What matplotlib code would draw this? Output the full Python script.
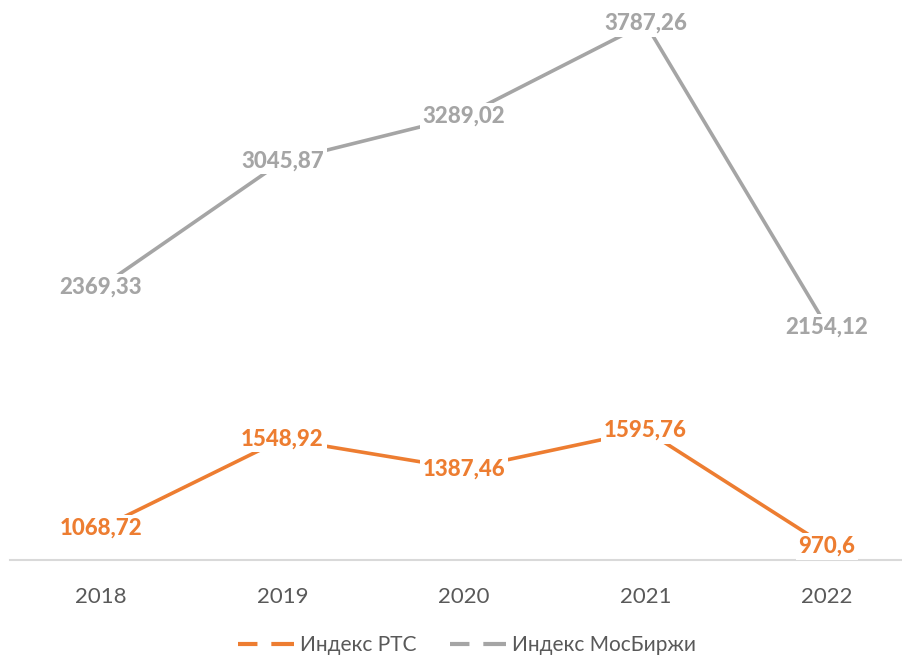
import matplotlib
matplotlib.use("Agg")
import matplotlib.pyplot as plt
from matplotlib.lines import Line2D

plt.rcParams['font.family'] = ['Lato', 'DejaVu Sans']
plt.rcParams['lines.scale_dashes'] = False

years = ["2018", "2019", "2020", "2021", "2022"]
rts = [1068.72, 1548.92, 1387.46, 1595.76, 970.6]
moex = [2369.33, 3045.87, 3289.02, 3787.26, 2154.12]
rts_labels = ["1068,72", "1548,92", "1387,46", "1595,76", "970,6"]
moex_labels = ["2369,33", "3045,87", "3289,02", "3787,26", "2154,12"]
series_names = ["Индекс РТС", "Индекс МосБиржи"]

orange = "#ED7D31"
gray = "#A5A5A5"
text_col = "#595959"

W, H = 902, 658
fig = plt.figure(figsize=(W / 100, H / 100), dpi=100)
ax = fig.add_axes([10.25 / W, (H - 559.5) / H, 907.5 / W, 559.5 / H])

x = list(range(len(years)))
ax.plot(x, moex, color=gray, lw=2.6, solid_capstyle='butt', zorder=2)
ax.plot(x, rts, color=orange, lw=2.6, solid_capstyle='butt', zorder=2)

for xi, v, s in zip(x, moex, moex_labels):
    ax.text(xi, v, s, ha='center', va='center', color=gray, fontsize=16,
            fontweight='black', zorder=4,
            bbox=dict(facecolor='white', edgecolor='none', pad=2.0))
for xi, v, s in zip(x, rts, rts_labels):
    ax.text(xi, v, s, ha='center', va='center', color=orange, fontsize=16,
            fontweight='black', zorder=5,
            bbox=dict(facecolor='white', edgecolor='none', pad=2.0))

ax.set_xlim(-0.5, len(years) - 0.5)
ax.set_ylim(900, 3914)
ax.set_xticks(x)
ax.set_xticklabels(years, fontsize=16, color=text_col)
ax.tick_params(axis='x', length=0, pad=20)
ax.set_yticks([])
for sp in ['top', 'right', 'left']:
    ax.spines[sp].set_visible(False)
ax.spines['bottom'].set_color('#D9D9D9')
ax.spines['bottom'].set_linewidth(1.5)
ax.patch.set_alpha(0)

handles = [Line2D([], [], color=orange, lw=3, dashes=(14, 10, 16, 0)),
           Line2D([], [], color=gray, lw=3, dashes=(14, 10, 16, 0))]
fig.legend(handles, series_names, loc='center', bbox_to_anchor=(467 / W, 1 - 645 / H),
           ncol=2, frameon=False, fontsize=15, labelcolor=text_col,
           handlelength=2.7, handletextpad=0.3, columnspacing=1.6,
           borderpad=0.1)

fig.savefig("out.png", dpi=100, facecolor='white')
